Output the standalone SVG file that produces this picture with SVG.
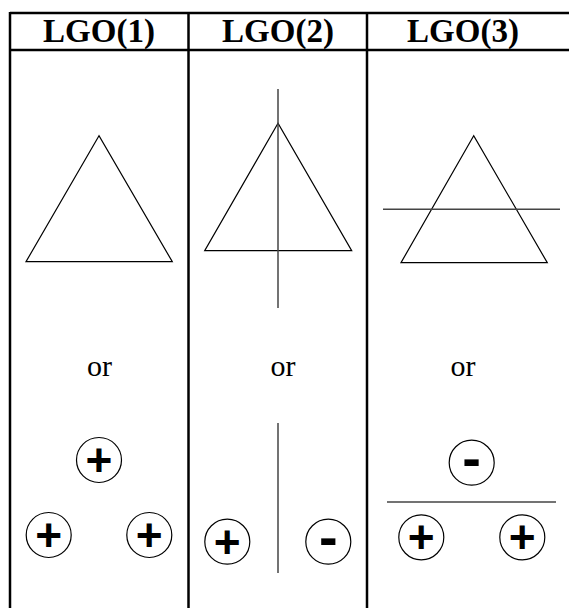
<svg xmlns="http://www.w3.org/2000/svg" width="569" height="608" viewBox="0 0 569 608">
<style>
.grid{stroke:#000;stroke-width:2.5;fill:none}
.tri{stroke:#000;stroke-width:1.2;fill:none}
.cut{stroke:#444;stroke-width:1.5;fill:none}
.ring{stroke:#000;stroke-width:1.2;fill:#fff}
.hd{font-family:"Liberation Serif",serif;font-weight:bold;font-size:33px;text-anchor:middle}
.or{font-family:"Liberation Serif",serif;font-size:30px;text-anchor:middle}
.sgn{font-family:"Liberation Sans",Arial,sans-serif;font-weight:bold;font-size:46px;text-anchor:middle}
.neg{font-family:"Liberation Sans",Arial,sans-serif;font-weight:bold;font-size:56px;text-anchor:middle}
</style>
<rect width="569" height="608" fill="#fff"/>
<g id="table">
<line class="grid" x1="10" y1="13" x2="569" y2="13"/>
<line class="grid" x1="10" y1="50" x2="569" y2="50"/>
<line class="grid" x1="10" y1="12" x2="10" y2="608"/>
<line class="grid" x1="188.5" y1="12" x2="188.5" y2="608"/>
<line class="grid" x1="367" y1="12" x2="367" y2="608"/>
<text class="hd" x="99" y="42">LGO(1)</text>
<text class="hd" x="278" y="42">LGO(2)</text>
<text class="hd" x="463" y="42">LGO(3)</text>
</g>
<g id="lgo1">
<polygon class="tri" points="99,135.7 26,261.7 172.3,261.7"/>
<text class="or" x="99.5" y="376">or</text>
<circle class="ring" cx="99" cy="460" r="22.5"/>
<text class="sgn" x="99" y="476">+</text>
<circle class="ring" cx="48.7" cy="535" r="22.5"/>
<text class="sgn" x="48.7" y="551">+</text>
<circle class="ring" cx="149.3" cy="535" r="22.5"/>
<text class="sgn" x="149.3" y="551">+</text>
</g>
<g id="lgo2">
<polygon class="tri" points="278,123.3 204.7,250.7 351.7,250.7"/>
<line class="cut" x1="278" y1="89" x2="278" y2="308"/>
<text class="or" x="283" y="376">or</text>
<line class="cut" x1="278" y1="423" x2="278" y2="573"/>
<circle class="ring" cx="227.3" cy="541.7" r="22.5"/>
<text class="sgn" x="227.3" y="557.7">+</text>
<circle class="ring" cx="328.3" cy="541.7" r="22.5"/>
<text class="neg" x="328.3" y="556">-</text>
</g>
<g id="lgo3">
<polygon class="tri" points="473.7,135.7 401,262.7 547.3,262.7"/>
<line class="cut" x1="383" y1="209.3" x2="560" y2="209.3"/>
<text class="or" x="463" y="376">or</text>
<circle class="ring" cx="471.7" cy="462.7" r="22.5"/>
<text class="neg" x="471.7" y="477">-</text>
<line class="cut" x1="387" y1="502" x2="556" y2="502"/>
<circle class="ring" cx="421.3" cy="537.3" r="22.5"/>
<text class="sgn" x="421.3" y="553.3">+</text>
<circle class="ring" cx="522.3" cy="537.3" r="22.5"/>
<text class="sgn" x="522.3" y="553.3">+</text>
</g>
</svg>
